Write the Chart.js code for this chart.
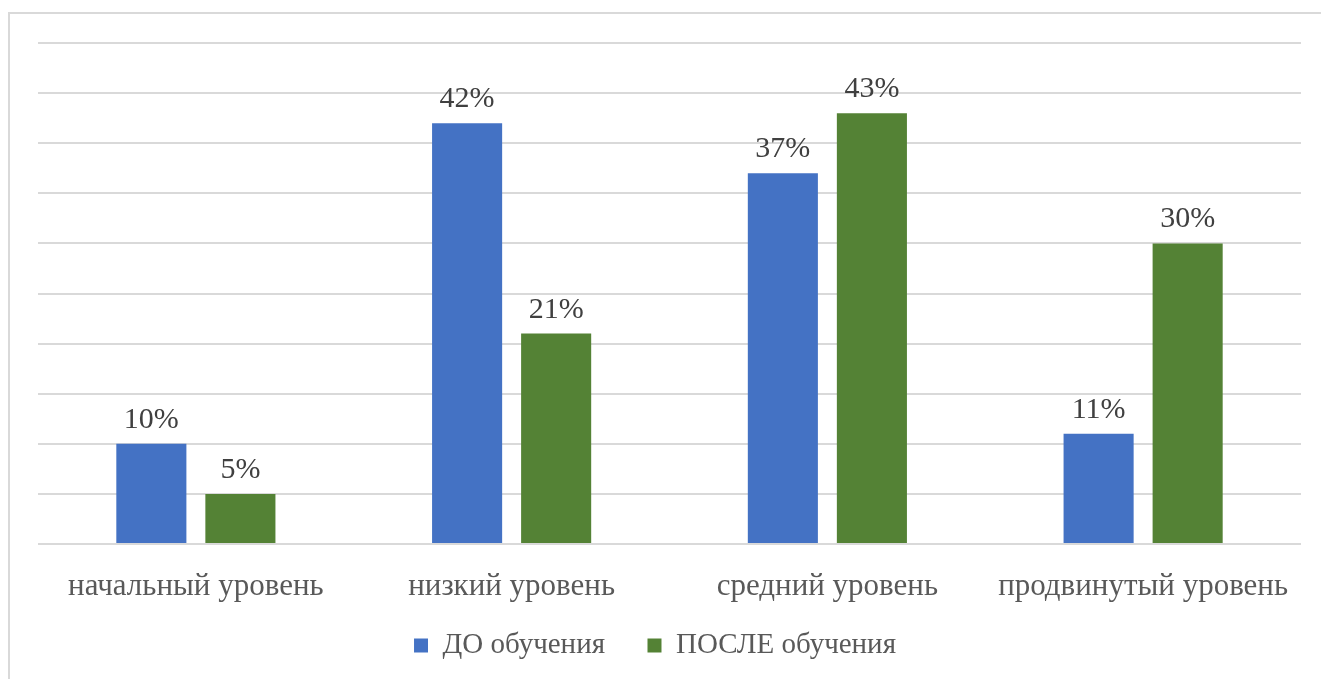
<!DOCTYPE html>
<html>
<head>
<meta charset="utf-8">
<script src="https://cdn.jsdelivr.net/npm/chart.js@4"></script>
<style>
    html, body { margin: 0; padding: 0; background: #fff; }
    #wrap { width: 1321px; height: 679px; position: relative; }
</style>
</head>
<body>
<div id="wrap"><canvas id="levelsChart"></canvas></div>
<script>
// Уровни сформированности: до и после обучения (%)
const levels = ['начальный уровень', 'низкий уровень', 'средний уровень', 'продвинутый уровень'];
const beforeValues = [10, 42, 37, 11];
const afterValues = [5, 21, 43, 30];
const seriesNames = ['ДО обучения', 'ПОСЛЕ обучения'];

const FONT = '"Liberation Serif", "Times New Roman", serif';

// рамка вокруг области диаграммы
const framePlugin = {
    id: 'frame',
    beforeDraw(chart) {
        const ctx = chart.ctx;
        ctx.save();
        ctx.fillStyle = '#fff';
        ctx.fillRect(0, 0, chart.width, chart.height);
        ctx.strokeStyle = '#d9d9d9';
        ctx.lineWidth = 2;
        ctx.strokeRect(9, 13, chart.width + 20, chart.height + 20);
        ctx.restore();
    }
};

// подписи значений над столбцами
const valueLabels = {
    id: 'valueLabels',
    afterDatasetsDraw(chart) {
        const ctx = chart.ctx;
        ctx.save();
        ctx.font = '30px ' + FONT;
        ctx.fillStyle = '#404040';
        ctx.textAlign = 'center';
        ctx.textBaseline = 'alphabetic';
        chart.data.datasets.forEach((ds, i) => {
            chart.getDatasetMeta(i).data.forEach((bar, j) => {
                ctx.fillText(ds.data[j] + '%', bar.x, bar.y - 16);
            });
        });
        ctx.restore();
    }
};

const defaultLegendLabels = Chart.defaults.plugins.legend.labels.generateLabels;

new Chart(document.getElementById('levelsChart'), {
    type: 'bar',
    data: {
        labels: levels,
        datasets: [
            {
                label: seriesNames[0],
                data: beforeValues,
                backgroundColor: '#4472c4'
            },
            {
                label: seriesNames[1],
                data: afterValues,
                backgroundColor: '#548235'
            }
        ]
    },
    options: {
        responsive: true,
        maintainAspectRatio: false,
        animation: false,
        categoryPercentage: 0.564,
        barPercentage: 0.787,
        layout: {
            padding: { left: 38, right: 20, top: 43, bottom: 9 }
        },
        plugins: {
            tooltip: { enabled: false },
            legend: {
                position: 'bottom',
                labels: {
                    color: '#595959',
                    font: { family: FONT, size: 29 },
                    boxWidth: 14,
                    boxHeight: 14,
                    padding: 28,
                    // шире промежуток между элементами, легенда чуть левее центра
                    generateLabels(chart) {
                        const items = defaultLegendLabels(chart);
                        items.forEach((it, i) => {
                            it.text += (i < items.length - 1) ? '\u2002' : '\u2002\u2002';
                        });
                        return items;
                    }
                }
            }
        },
        scales: {
            x: {
                grid: { display: false, drawTicks: false },
                border: { display: false },
                ticks: {
                    color: '#595959',
                    font: { family: FONT, size: 31 },
                    padding: 24,
                    maxRotation: 0
                },
                afterFit(scale) {
                    scale.height = 59;
                }
            },
            y: {
                min: 0,
                max: 50,
                ticks: { display: false, stepSize: 5 },
                border: { display: false },
                grid: { color: '#d9d9d9', lineWidth: 2, drawTicks: false }
            }
        }
    },
    plugins: [framePlugin, valueLabels]
});
</script>
</body>
</html>
